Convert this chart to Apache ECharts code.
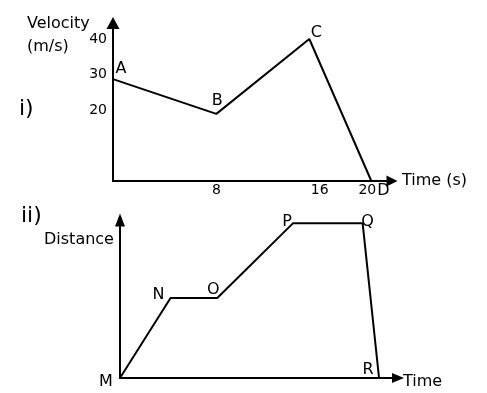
<!DOCTYPE html>
<html>
<head>
<meta charset="utf-8">
<script src="https://cdn.jsdelivr.net/npm/echarts@6/dist/echarts.min.js"></script>
<style>
html,body{margin:0;padding:0;background:#fff;}
#chart{width:487px;height:393px;}
</style>
</head>
<body>
<div id="chart"></div>
<script>
// ---- Data: (i) velocity-time graph ----
const vtPoints = ['A', 'B', 'C', 'D'];
const vtTime = [0, 8, 15.2, 20];
const vtVelocity = [28.7, 18.9, 40, 0];
const vtYTicks = [20, 30, 40];
const vtXTicks = [8, 16, 20];

// ---- Data: (ii) distance-time graph ----
const dtPoints = ['M', 'N', 'O', 'P', 'Q', 'R'];
const dtTime = [0, 4.0, 7.7, 13.7, 19.2, 20.5];
const dtDistance = [0, 5.06, 5.06, 9.8, 9.8, 0];

// ---- Label layout (styling, not data) ----
const vtLabelOffset = { A: [8, -10], B: [1, -13], C: [7, -6], D: [12, 10] };
const dtLabelOffset = { M: [-14, 4], N: [-12, -3], O: [-4, -8], P: [-6, -1], Q: [5, -1], R: [-11, -8] };

const FONT = 'DejaVu Sans';

function buildData(names, xs, ys, offsets) {
  return names.map((n, i) => ({
    name: n,
    value: [xs[i], ys[i]],
    label: { offset: offsets[n] }
  }));
}

function lineSeries(names, xs, ys, offsets, idx) {
  return {
    type: 'line',
    xAxisIndex: idx,
    yAxisIndex: idx,
    data: buildData(names, xs, ys, offsets),
    symbol: 'circle',
    symbolSize: 1,
    showSymbol: true,
    itemStyle: { color: 'rgba(0,0,0,0)' },
    lineStyle: { color: '#000', width: 2 },
    label: {
      show: true,
      position: 'inside',
      formatter: p => p.name,
      color: '#000',
      fontFamily: FONT,
      fontSize: 16,
      textBorderWidth: 0,
      align: 'center',
      verticalAlign: 'middle'
    },
    emphasis: { disabled: true },
    silent: true,
    animation: false
  };
}

const option = {
  backgroundColor: '#fff',
  animation: false,
  title: [
    { text: 'Velocity\n(m/s)', left: 27, top: 12, padding: 0,
      textStyle: { fontFamily: FONT, fontSize: 16, fontWeight: 'normal', color: '#000', lineHeight: 23 } },
    { text: 'i)', left: 19, top: 98, padding: 0,
      textStyle: { fontFamily: FONT, fontSize: 22, fontWeight: 'normal', color: '#000', lineHeight: 22 } },
    { text: 'ii)', left: 21, top: 205, padding: 0,
      textStyle: { fontFamily: FONT, fontSize: 22, fontWeight: 'normal', color: '#000', lineHeight: 22 } },
    { text: 'Distance', left: 44, top: 232, padding: 0,
      textStyle: { fontFamily: FONT, fontSize: 16, fontWeight: 'normal', color: '#000', lineHeight: 16 } }
  ],
  grid: [
    { left: 113, top: 23, width: 279, height: 158, outerBoundsMode: 'none' },
    { left: 120, top: 220, width: 278, height: 158, outerBoundsMode: 'none' }
  ],
  xAxis: [
    {
      gridIndex: 0, type: 'value', min: 0, max: 21.6, interval: 4,
      name: 'Time (s)', nameLocation: 'end', nameGap: 10,
      nameTextStyle: { fontFamily: FONT, fontSize: 16, color: '#000', align: 'left', verticalAlign: 'middle' },
      axisLine: { show: true, onZero: false, symbol: ['none', 'triangle'], symbolSize: [11, 11], lineStyle: { color: '#000', width: 2 } },
      axisTick: { show: false },
      splitLine: { show: false },
      axisLabel: {
        show: true, margin: 2, color: '#000', fontFamily: FONT, fontSize: 14,
        showMinLabel: true, showMaxLabel: false,
        formatter: v => vtXTicks.indexOf(v) >= 0 ? (v === 20 ? '{s|' + v + '}' : String(v)) : '',
        rich: { s: { fontFamily: FONT, fontSize: 14, color: '#000', padding: [0, 8, 0, 0] } }
      }
    },
    {
      gridIndex: 1, type: 'value', min: 0, max: 22,
      name: '{t|Time}', nameLocation: 'end', nameGap: 5,
      nameTextStyle: {
        fontFamily: FONT, fontSize: 16, color: '#000', align: 'left', verticalAlign: 'middle',
        rich: { t: { fontFamily: FONT, fontSize: 16, color: '#000', padding: [8, 0, 0, 0] } }
      },
      axisLine: { show: true, onZero: false, symbol: ['none', 'triangle'], symbolSize: [10, 12], lineStyle: { color: '#000', width: 2 } },
      axisTick: { show: false },
      splitLine: { show: false },
      axisLabel: { show: false }
    }
  ],
  yAxis: [
    {
      gridIndex: 0, type: 'value', min: 0, max: 44.5, interval: 10,
      axisLine: { show: true, onZero: false, symbol: ['none', 'triangle'], symbolSize: [13, 12], lineStyle: { color: '#000', width: 2 } },
      axisTick: { show: false },
      splitLine: { show: false },
      axisLabel: {
        show: true, margin: 6, color: '#000', fontFamily: FONT, fontSize: 14,
        showMaxLabel: false,
        formatter: v => vtYTicks.indexOf(v) >= 0 ? String(v) : ''
      }
    },
    {
      gridIndex: 1, type: 'value', min: 0, max: 10,
      axisLine: { show: true, onZero: false, symbol: ['none', 'triangle'], symbolSize: [10, 13], lineStyle: { color: '#000', width: 2 } },
      axisTick: { show: false },
      splitLine: { show: false },
      axisLabel: { show: false }
    }
  ],
  series: [
    lineSeries(vtPoints, vtTime, vtVelocity, vtLabelOffset, 0),
    lineSeries(dtPoints, dtTime, dtDistance, dtLabelOffset, 1)
  ]
};

const chart = echarts.init(document.getElementById('chart'), null, { renderer: 'canvas' });
chart.setOption(option);
</script>
</body>
</html>
